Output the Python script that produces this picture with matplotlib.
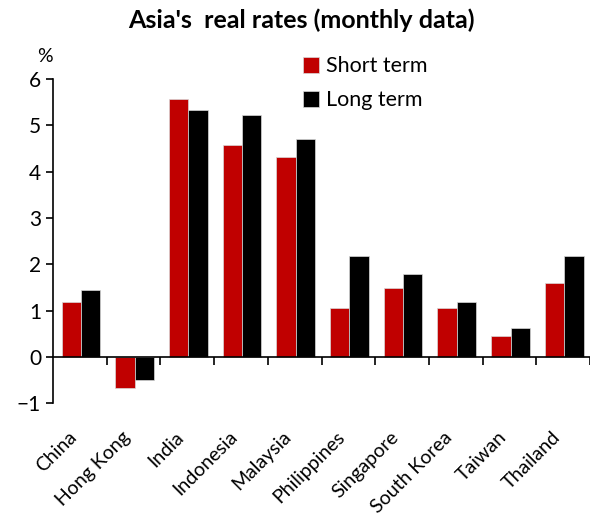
import matplotlib.pyplot as plt
import matplotlib.transforms as mtransforms
import numpy as np

countries = ["China", "Hong Kong", "India", "Indonesia", "Malaysia",
             "Philippines", "Singapore", "South Korea", "Taiwan", "Thailand"]
short_term = [1.18, -0.67, 5.57, 4.58, 4.32, 1.05, 1.48, 1.05, 0.45, 1.60]
long_term = [1.44, -0.49, 5.32, 5.23, 4.71, 2.17, 1.78, 1.18, 0.62, 2.17]

plt.rcParams["font.family"] = ["Lato", "DejaVu Sans"]

fig = plt.figure(figsize=(5.9, 5.13), dpi=100)
ax = fig.add_axes([53 / 590, 0.214, 537 / 590, 0.632])

x = np.arange(len(countries))
width = 0.36

ax.bar(x - 0.16, short_term, width, color="#C00000",
       edgecolor="#d9d9d9", linewidth=0.5, label="Short term")
ax.bar(x + 0.20, long_term, width, color="black",
       edgecolor="#d9d9d9", linewidth=0.5, label="Long term")

# spines first: moving the bottom spine resets the tick labels
ax.spines["top"].set_visible(False)
ax.spines["right"].set_visible(False)
ax.spines["bottom"].set_position(("data", 0))
ax.spines["left"].set_linewidth(1.2)
ax.spines["bottom"].set_linewidth(1.2)

ax.set_xlim(-0.5, len(countries) - 0.5)
ax.set_ylim(-1, 6)
ax.set_yticks(range(-1, 7))
ax.tick_params(axis="y", labelsize=15, length=5, width=1.2, direction="out")

# labels under each pair, tick marks on the category boundaries
ax.set_xticks(x)
ax.set_xticklabels(countries, rotation=45, ha="right",
                   rotation_mode="anchor", fontsize=14)
ax.set_xticks(x + 0.5, minor=True)
ax.tick_params(axis="x", which="major", length=0, pad=50)
ax.tick_params(axis="x", which="minor", length=6, width=1.2, direction="out")

shift = mtransforms.ScaledTranslation(-12 / 100, -2 / 100, fig.dpi_scale_trans)
for lbl in ax.get_xticklabels():
    lbl.set_transform(lbl.get_transform() + shift)

fig.text(0.51, 0.96, "Asia's  real rates (monthly data)", ha="center",
         va="center", fontsize=18, fontweight="bold")
fig.text(45 / 590, 1 - 57 / 513, "%", ha="center", va="center", fontsize=14)

ax.legend(loc="upper left", bbox_to_anchor=(0.43, 1.13), frameon=False,
          fontsize=15.5, handlelength=0.75, handleheight=0.75,
          handletextpad=0.3, labelspacing=0.65)

fig.savefig("out.png", dpi=100)
